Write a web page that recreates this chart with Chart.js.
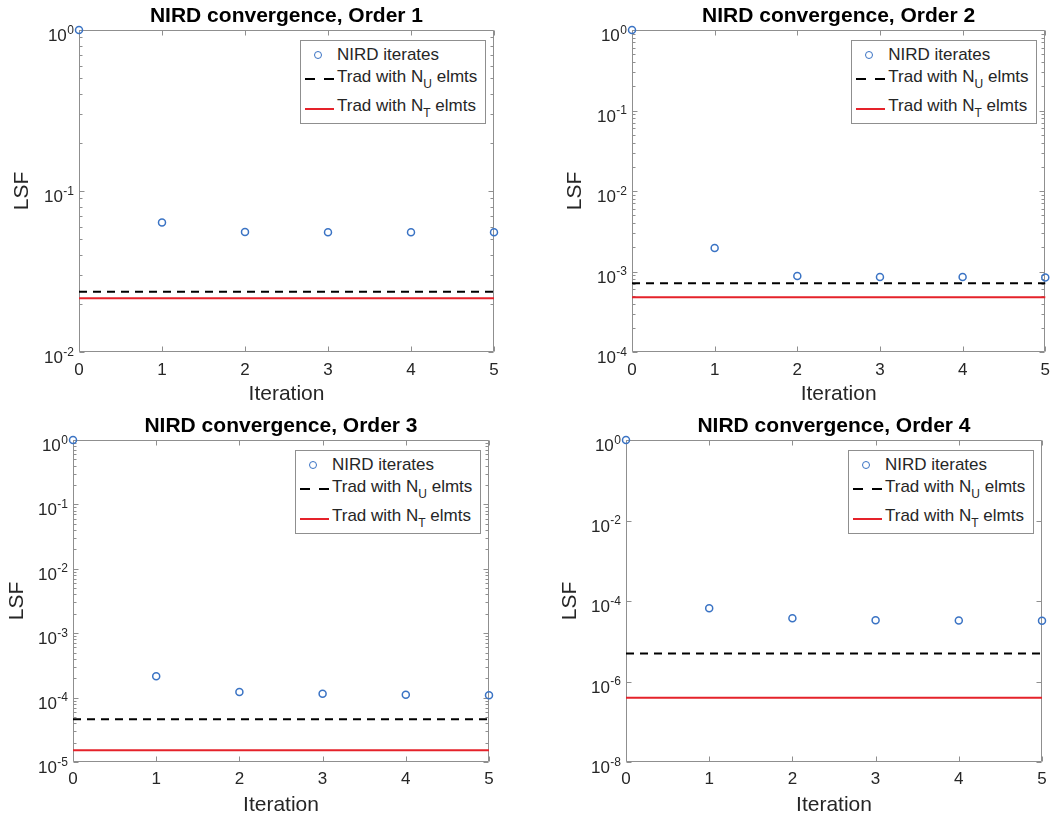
<!DOCTYPE html>
<html lang="en">
<head>
<meta charset="UTF-8">
<title>NIRD convergence</title>
<style>
  html, body { margin: 0; padding: 0; background: #fff; }
  #figure { position: relative; width: 1058px; height: 817px; overflow: hidden;
            font-family: "Liberation Sans", Arial, Helvetica, sans-serif; }
  .panel { position: absolute; }
  .panel canvas { display: block; }
  .legend { position: absolute; width: 186px; height: 84px; box-sizing: border-box;
            border: 1px solid #8f8f8f; background: #fff; font-size: 17px; color: #262626; }
  .legend .txt { position: absolute; left: 36px; height: 20px; line-height: 20px; white-space: nowrap; }
  .legend sub { font-size: 12px; vertical-align: -6px; line-height: 0; }
  .legend .mark { position: absolute; box-sizing: border-box; }
</style>
</head>
<body>
<div id="figure"></div>

<script src="https://cdn.jsdelivr.net/npm/chart.js"></script>
<script>
// ---- data ----
const iterations = [0, 1, 2, 3, 4, 5];

const panelTitles = [
    'NIRD convergence, Order 1',
    'NIRD convergence, Order 2',
    'NIRD convergence, Order 3',
    'NIRD convergence, Order 4'
];

const seriesLabels = ['NIRD iterates', 'Trad with N_U elmts', 'Trad with N_T elmts'];

const nirdOrder1 = [1, 0.0637, 0.0557, 0.0555, 0.0555, 0.0555];
const nirdOrder2 = [1, 0.00196, 0.00088, 0.000855, 0.000855, 0.00084];
const nirdOrder3 = [1, 2.15e-4, 1.22e-4, 1.15e-4, 1.11e-4, 1.09e-4];
const nirdOrder4 = [1, 6.6e-5, 3.73e-5, 3.33e-5, 3.27e-5, 3.25e-5];

// traditional method, one value per order
const tradNU = [0.0237, 7.13e-4, 4.6e-5, 4.94e-6];
const tradNT = [0.0216, 4.78e-4, 1.52e-5, 3.97e-7];

// y tick decades (exponents of ten) per panel
const yDecades1 = [0, -1, -2];
const yDecades2 = [0, -1, -2, -3, -4];
const yDecades3 = [0, -1, -2, -3, -4, -5];
const yDecades4 = [0, -2, -4, -6, -8];

const nirdSeries = [nirdOrder1, nirdOrder2, nirdOrder3, nirdOrder4];
const yDecades = [yDecades1, yDecades2, yDecades3, yDecades4];

// ---- layout of the four panels ----
const panels = [
    { left: 0,   top: 0,   w: 529, h: 408, yAxisW: 79,  padRight: 35, titleTop: 4, xAxisH: 56, yTitlePad: 10, xTitlePad: 2, xTickPad: 8 },
    { left: 529, top: 0,   w: 529, h: 408, yAxisW: 103, padRight: 12, titleTop: 4, xAxisH: 56, yTitlePad: 34, xTitlePad: 2, xTickPad: 8 },
    { left: 0,   top: 408, w: 529, h: 409, yAxisW: 73,  padRight: 40, titleTop: 6, xAxisH: 55, yTitlePad: 5,  xTitlePad: 0, xTickPad: 7 },
    { left: 529, top: 408, w: 529, h: 409, yAxisW: 97,  padRight: 16, titleTop: 6, xAxisH: 55, yTitlePad: 29, xTitlePad: 0, xTickPad: 7 }
];

const BLUE = '#3a73c4';
const RED = '#e5222a';
const FRAME = '#8f8f8f';
const TEXT = '#262626';
const FAMILY = '"Liberation Sans", Arial, Helvetica, sans-serif';

Chart.defaults.font.family = FAMILY;
Chart.defaults.color = TEXT;

// box frame with inward ticks on all four sides (matlab style)
const frameTicks = {
    id: 'frameTicks',
    beforeDatasetsDraw(chart, args, opts) {
        const { ctx, chartArea: a, scales: { x, y } } = chart;
        const L = Math.round(a.left) + 0.5, R = Math.round(a.right) - 0.5;
        const T = Math.round(a.top) + 0.5, B = Math.round(a.bottom) - 0.5;
        ctx.save();
        ctx.strokeStyle = FRAME;
        ctx.lineWidth = 1;
        ctx.beginPath();
        ctx.rect(L, T, R - L, B - T);
        x.ticks.forEach(t => {
            const px = Math.round(x.getPixelForValue(t.value)) + 0.5;
            ctx.moveTo(px, B); ctx.lineTo(px, B - 5);
            ctx.moveTo(px, T); ctx.lineTo(px, T + 5);
        });
        y.ticks.forEach(t => {
            const py = Math.round(y.getPixelForValue(t.value)) + 0.5;
            ctx.moveTo(L, py); ctx.lineTo(L + 5, py);
            ctx.moveTo(R, py); ctx.lineTo(R - 5, py);
        });
        if (opts.minor) {
            const lo = Math.round(Math.log10(y.min)), hi = Math.round(Math.log10(y.max));
            for (let e = lo; e < hi; e++) {
                for (let k = 2; k <= 9; k++) {
                    const py = Math.round(y.getPixelForValue(k * Math.pow(10, e))) + 0.5;
                    ctx.moveTo(L, py); ctx.lineTo(L + 3, py);
                    ctx.moveTo(R, py); ctx.lineTo(R - 3, py);
                }
            }
        }
        ctx.stroke();
        ctx.restore();
    }
};

// y tick labels as 10 with a raised exponent
const powerLabels = {
    id: 'powerLabels',
    afterDraw(chart, args, opts) {
        const { ctx, chartArea: a, scales: { y } } = chart;
        const baseFont = '17px ' + FAMILY;
        const supFont = '12px ' + FAMILY;
        ctx.save();
        ctx.fillStyle = TEXT;
        ctx.textAlign = 'left';
        ctx.textBaseline = 'alphabetic';
        y.ticks.forEach((t, idx) => {
            const exp = String(opts.exponents[idx]);
            const py = y.getPixelForValue(t.value);
            ctx.font = supFont;
            const wS = ctx.measureText(exp).width;
            ctx.font = baseFont;
            const wB = ctx.measureText('10').width;
            const right = a.left - 5;
            ctx.fillText('10', right - wS - wB - 0.5, py + 11);
            ctx.font = supFont;
            ctx.fillText(exp, right - wS, py + 3.5);
        });
        ctx.restore();
    }
};

// html legend built from the chart's datasets
const rowText = [14, 36, 65];
const rowMark = [14, 38, 68];
function buildLegend(chart, box) {
    const a = chart.chartArea;
    const lg = document.createElement('div');
    lg.className = 'legend';
    lg.style.left = (a.right - 8 - 186) + 'px';
    lg.style.top = (a.top + 10) + 'px';
    chart.data.datasets.forEach((ds, k) => {
        const mark = document.createElement('div');
        mark.className = 'mark';
        if (!ds.showLine) {
            mark.style.width = '8px';
            mark.style.height = '8px';
            mark.style.left = (17 - 4) + 'px';
            mark.style.top = (rowMark[k] - 4) + 'px';
            mark.style.border = '1.5px solid ' + ds.borderColor;
            mark.style.borderRadius = '50%';
        } else {
            mark.style.left = '4px';
            mark.style.width = '29px';
            mark.style.height = '2px';
            mark.style.top = (rowMark[k] - 1) + 'px';
            if (ds.borderDash) {
                mark.style.background = 'repeating-linear-gradient(90deg, ' + ds.borderColor +
                    ' 0 10px, transparent 10px 19px)';
            } else {
                mark.style.background = ds.borderColor;
            }
        }
        lg.appendChild(mark);
        const txt = document.createElement('div');
        txt.className = 'txt';
        txt.style.top = (rowText[k] - 10) + 'px';
        txt.innerHTML = ds.label.replace(/_(\w)/, '<sub>$1</sub>');
        lg.appendChild(txt);
    });
    box.appendChild(lg);
}

const fig = document.getElementById('figure');

panels.forEach((p, i) => {
    const box = document.createElement('div');
    box.className = 'panel';
    box.style.left = p.left + 'px';
    box.style.top = p.top + 'px';
    box.style.width = p.w + 'px';
    box.style.height = p.h + 'px';
    const canvas = document.createElement('canvas');
    canvas.width = p.w;
    canvas.height = p.h;
    box.appendChild(canvas);
    fig.appendChild(box);

    const decades = yDecades[i];
    const xFirst = iterations[0];
    const xLast = iterations[iterations.length - 1];

    const chart = new Chart(canvas.getContext('2d'), {
        type: 'scatter',
        data: {
            datasets: [{
                label: seriesLabels[0],
                data: iterations.map((it, k) => ({ x: it, y: nirdSeries[i][k] })),
                showLine: false,
                pointStyle: 'circle',
                pointRadius: 3.5,
                pointHoverRadius: 3.5,
                pointBorderWidth: 1.5,
                borderColor: BLUE,
                backgroundColor: 'rgba(0,0,0,0)',
                clip: false
            }, {
                label: seriesLabels[1],
                data: [{ x: xFirst, y: tradNU[i] }, { x: xLast, y: tradNU[i] }],
                showLine: true,
                borderColor: '#000000',
                borderWidth: 2,
                borderDash: [8, 6],
                pointRadius: 0,
                clip: false
            }, {
                label: seriesLabels[2],
                data: [{ x: xFirst, y: tradNT[i] }, { x: xLast, y: tradNT[i] }],
                showLine: true,
                borderColor: RED,
                borderWidth: 2,
                pointRadius: 0,
                clip: false
            }]
        },
        options: {
            responsive: false,
            animation: false,
            events: [],
            layout: { padding: { left: 0, top: 0, right: p.padRight, bottom: 0 } },
            plugins: {
                legend: { display: false },
                tooltip: { enabled: false },
                title: {
                    display: true,
                    text: panelTitles[i],
                    fullSize: false,
                    color: '#000000',
                    font: { size: 21, weight: 'bold', lineHeight: '24px' },
                    padding: { top: p.titleTop, bottom: 2 }
                },
                frameTicks: { minor: decades.length - 1 === Math.abs(decades[decades.length - 1]) },
                powerLabels: { exponents: decades }
            },
            scales: {
                x: {
                    type: 'linear',
                    position: 'bottom',
                    min: xFirst,
                    max: xLast,
                    grid: { display: false, drawTicks: false },
                    border: { display: false },
                    ticks: { stepSize: 1, padding: p.xTickPad, maxRotation: 0, autoSkip: false,
                             font: { size: 17 }, color: TEXT },
                    title: { display: true, text: 'Iteration', color: TEXT,
                             font: { size: 21, lineHeight: '24px' }, padding: { top: 0, bottom: p.xTitlePad } },
                    afterFit: s => { s.height = p.xAxisH; }
                },
                y: {
                    type: 'logarithmic',
                    position: 'left',
                    min: Math.pow(10, decades[decades.length - 1]),
                    max: Math.pow(10, decades[0]),
                    bounds: 'data',
                    afterBuildTicks: s => {
                        s.ticks = decades.map(e => ({ value: Math.pow(10, e) }));
                    },
                    grid: { display: false, drawTicks: false },
                    border: { display: false },
                    ticks: { display: false },
                    title: { display: true, text: 'LSF', color: TEXT,
                             font: { size: 21, lineHeight: '24px' }, padding: { top: p.yTitlePad, bottom: 0 } },
                    afterFit: s => { s.width = p.yAxisW; }
                }
            }
        },
        plugins: [frameTicks, powerLabels]
    });

    buildLegend(chart, box);
});
</script>
</body>
</html>
